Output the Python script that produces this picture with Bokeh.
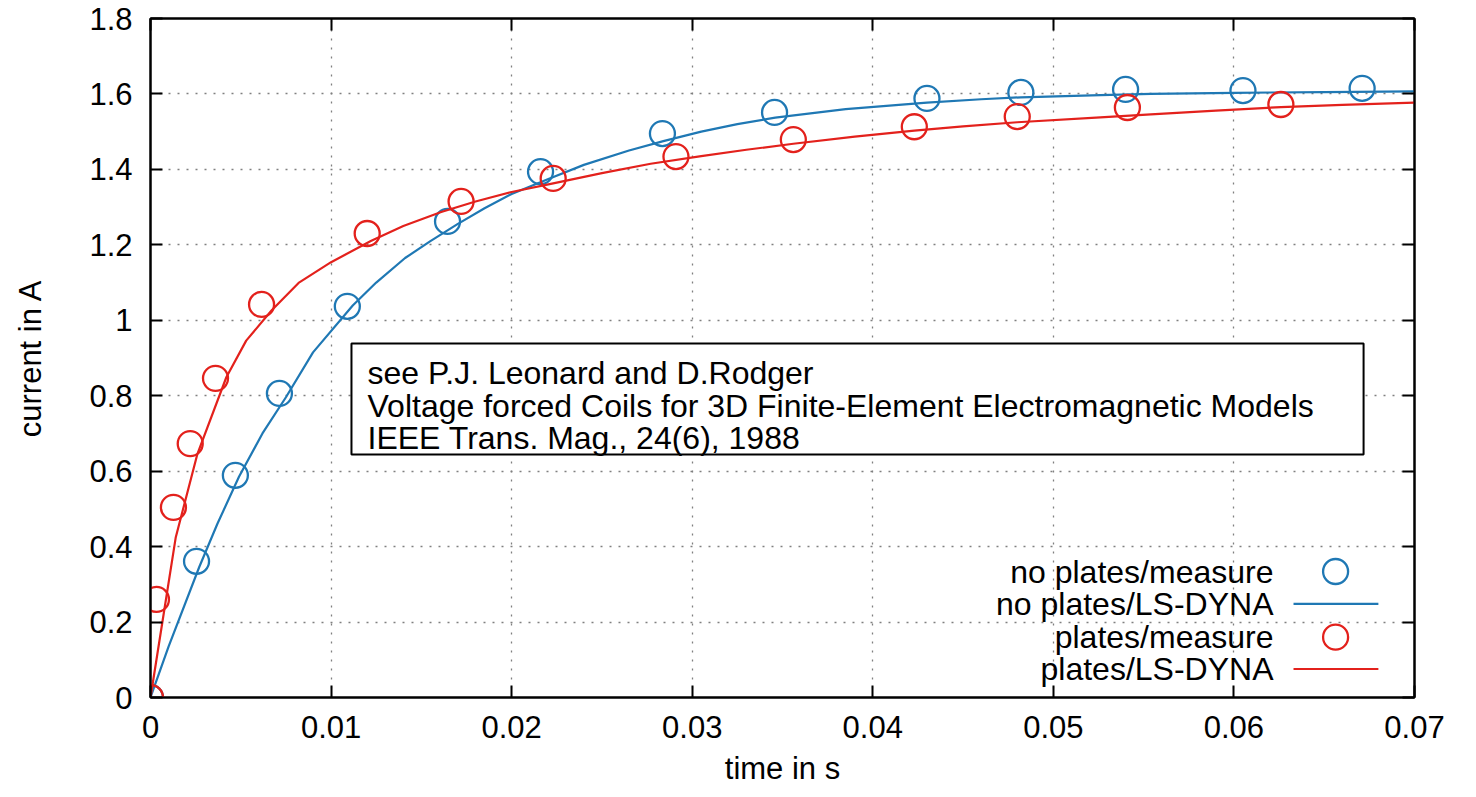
from bokeh.plotting import figure
from bokeh.models import Range1d, LinearAxis, FixedTicker, BoxAnnotation, Label, CustomJSTickFormatter
from bokeh.embed import file_html
from bokeh.resources import INLINE

# ---------------- data ----------------
noplates_meas_t = [0.0, 0.00255, 0.0047, 0.00714, 0.0109, 0.01645, 0.0216, 0.02835,
                   0.03456, 0.0430, 0.0482, 0.0540, 0.0605, 0.0671]
noplates_meas_i = [0.0, 0.361, 0.589, 0.806, 1.037, 1.262, 1.394, 1.495,
                   1.551, 1.588, 1.604, 1.612, 1.609, 1.615]

noplates_sim_t = [0.0, 0.0010, 0.0027, 0.0037, 0.0049, 0.0062, 0.0075, 0.0090, 0.0112,
                  0.0125, 0.0141, 0.0155, 0.0170, 0.0185, 0.0200, 0.0220, 0.0240,
                  0.0265, 0.0284, 0.0305, 0.0325, 0.0346, 0.0385, 0.0430, 0.0460,
                  0.0482, 0.0526, 0.0554, 0.0600, 0.0650, 0.0700]
noplates_sim_i = [0.0, 0.135, 0.346, 0.460, 0.585, 0.700, 0.796, 0.915, 1.039,
                  1.100, 1.165, 1.210, 1.255, 1.297, 1.335, 1.374, 1.412,
                  1.450, 1.475, 1.500, 1.520, 1.537, 1.560, 1.577, 1.586,
                  1.591, 1.597, 1.600, 1.603, 1.605, 1.607]

plates_meas_t = [0.0, 0.00033, 0.00127, 0.0022, 0.0036, 0.00615, 0.0120, 0.0172,
                 0.0223, 0.0291, 0.0356, 0.0423, 0.0480, 0.0541, 0.0626]
plates_meas_i = [0.0, 0.260, 0.504, 0.673, 0.846, 1.042, 1.230, 1.315,
                 1.376, 1.434, 1.479, 1.513, 1.540, 1.564, 1.572]

plates_sim_t = [0.0, 0.0014, 0.0026, 0.0042, 0.0053, 0.0067, 0.0082, 0.0100, 0.0122,
                0.0140, 0.0161, 0.0180, 0.0200, 0.0223, 0.0250, 0.0277, 0.0305,
                0.0330, 0.0356, 0.0390, 0.0423, 0.0450, 0.0480, 0.0526, 0.0554,
                0.0590, 0.0626, 0.0660, 0.0700]
plates_sim_i = [0.0, 0.425, 0.646, 0.849, 0.946, 1.026, 1.099, 1.154, 1.210,
                1.250, 1.287, 1.315, 1.340, 1.363, 1.390, 1.415, 1.435,
                1.452, 1.468, 1.487, 1.503, 1.514, 1.525, 1.538, 1.546,
                1.556, 1.565, 1.571, 1.577]

x_ticks = [0, 0.01, 0.02, 0.03, 0.04, 0.05, 0.06, 0.07]
x_tick_labels = ["0", "0.01", "0.02", "0.03", "0.04", "0.05", "0.06", "0.07"]
y_ticks = [0, 0.2, 0.4, 0.6, 0.8, 1.0, 1.2, 1.4, 1.6, 1.8]
y_tick_labels = ["0", "0.2", "0.4", "0.6", "0.8", "1", "1.2", "1.4", "1.6", "1.8"]

series_names = ["no plates/measure", "no plates/LS-DYNA", "plates/measure", "plates/LS-DYNA"]
note_lines = ["see P.J. Leonard and D.Rodger",
              "Voltage forced Coils for 3D Finite-Element Electromagnetic Models",
              "IEEE Trans. Mag., 24(6), 1988"]
x_title = "time in s"
y_title = "current in A"

BLUE = "#1f78b4"
RED = "#e3211c"
FONT = "Liberation Sans"

# ---------------- figure ----------------
p = figure(width=1470, height=797,
           x_range=Range1d(0, 0.07), y_range=Range1d(0, 1.8),
           output_backend="svg", toolbar_location=None,
           min_border_left=150, min_border_right=56,
           min_border_top=18, min_border_bottom=100)
p.background_fill_color = "white"
p.border_fill_color = "white"
p.outline_line_color = "black"
p.outline_line_width = 2

xt = FixedTicker(ticks=x_ticks)
yt = FixedTicker(ticks=y_ticks)

def style_axis(ax, ticker, labels=None):
    ax.ticker = ticker
    ax.axis_line_color = "black"
    ax.axis_line_width = 2
    ax.major_tick_in = 12
    ax.major_tick_out = 0
    ax.major_tick_line_width = 2
    ax.major_tick_line_color = "black"
    ax.minor_tick_line_color = None
    ax.major_label_text_font = FONT
    ax.major_label_text_color = "black"
    if labels is not None:
        ax.major_label_overrides = dict(zip(ticker.ticks, labels))

style_axis(p.xaxis[0], xt, x_tick_labels)
style_axis(p.yaxis[0], yt, y_tick_labels)
p.xaxis.major_label_text_font_size = "31px"
p.yaxis.major_label_text_font_size = "31px"
p.xaxis.major_label_standoff = 18
p.yaxis.major_label_standoff = 18
p.xaxis.axis_label = x_title
p.yaxis.axis_label = y_title
for ax in (p.xaxis[0], p.yaxis[0]):
    ax.axis_label_text_font = FONT
    ax.axis_label_text_font_size = "31px"
    ax.axis_label_text_font_style = "normal"
    ax.axis_label_text_color = "black"
p.xaxis.axis_label_standoff = 10
p.yaxis.axis_label_standoff = 38

for loc, tk in (("above", xt), ("right", yt)):
    ax = LinearAxis()
    style_axis(ax, tk)
    ax.formatter = CustomJSTickFormatter(code="return ''")
    ax.major_label_standoff = 0
    p.add_layout(ax, loc)

for g, tk in ((p.xgrid[0], xt), (p.ygrid[0], yt)):
    g.ticker = tk
    g.grid_line_color = "#808080"
    g.grid_line_width = 1.3
    g.grid_line_dash = "2 7"

# ---------------- data glyphs ----------------
p.scatter(noplates_meas_t, noplates_meas_i, marker="circle", size=25,
          fill_color=None, line_color=BLUE, line_width=2.3)
p.line(noplates_sim_t, noplates_sim_i, line_color=BLUE, line_width=2.2)
p.scatter(plates_meas_t, plates_meas_i, marker="circle", size=25,
          fill_color=None, line_color=RED, line_width=2.3)
p.line(plates_sim_t, plates_sim_i, line_color=RED, line_width=2.2)

# ---------------- key (gnuplot style: text right, sample on the right) ----------------
key_text_x = 0.06219
key_sample_x = 0.06563
key_line_x0, key_line_x1 = 0.0633, 0.0680
key_rows = [0.334, 0.248, 0.160, 0.0756]
for name, yy in zip(series_names, key_rows):
    p.add_layout(Label(x=key_text_x, y=yy, text=name, text_align="right",
                       text_baseline="middle", text_font=FONT,
                       text_font_size="32px", text_color="black"))
p.scatter([key_sample_x], [key_rows[0]], marker="circle", size=25,
          fill_color=None, line_color=BLUE, line_width=2.3)
p.line([key_line_x0, key_line_x1], [key_rows[1], key_rows[1]], line_color=BLUE, line_width=2.2)
p.scatter([key_sample_x], [key_rows[2]], marker="circle", size=25,
          fill_color=None, line_color=RED, line_width=2.3)
p.line([key_line_x0, key_line_x1], [key_rows[3], key_rows[3]], line_color=RED, line_width=2.2)

# ---------------- reference note box ----------------
p.add_layout(BoxAnnotation(left=0.01113, right=0.06718, bottom=0.644, top=0.9385,
                           fill_color="white", fill_alpha=1.0,
                           line_color="black", line_alpha=1.0, line_width=2))
for txt, yy in zip(note_lines, [0.859, 0.774, 0.689]):
    p.add_layout(Label(x=0.01202, y=yy, text=txt, text_align="left",
                       text_baseline="alphabetic", text_font=FONT,
                       text_font_size="32px", text_color="black"))

open("out.html", "w").write(file_html(p, INLINE))
